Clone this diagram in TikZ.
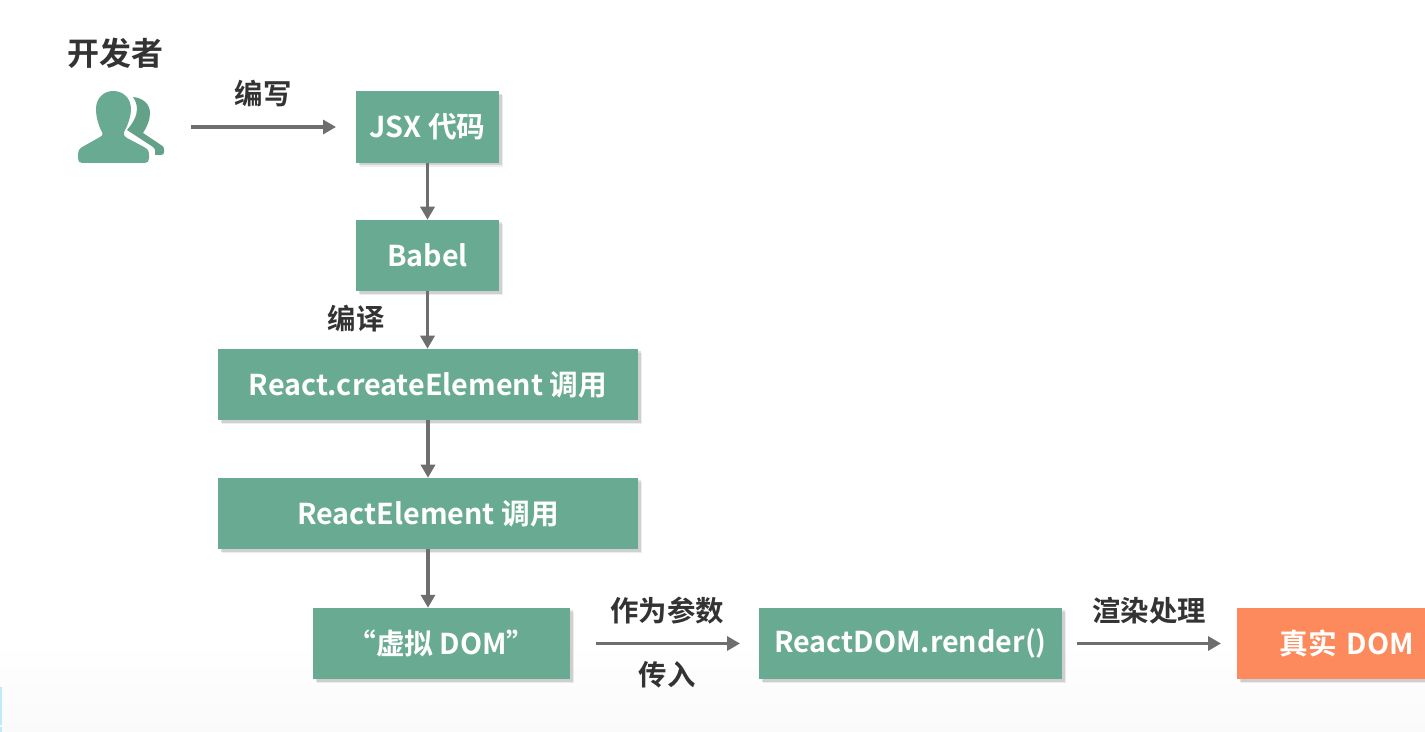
\documentclass[tikz,border=0pt]{standalone}
\usepackage{fontspec}
\setmainfont{Noto Sans CJK SC}[BoldFont={Noto Sans CJK SC Bold}]
\usetikzlibrary{arrows.meta,shadows}
\definecolor{boxgreen}{HTML}{69AB92}
\definecolor{boxorange}{HTML}{FC8A5D}
\definecolor{linegray}{HTML}{6E6E6E}
\definecolor{labelgray}{HTML}{333333}
\definecolor{pagelow}{HTML}{FAFAFA}
\tikzset{
  x=0.5pt,y=-0.5pt,
  flowbox/.style={draw=none,fill=boxgreen,text=white,font=\bfseries\fontsize{14.35}{16}\selectfont,
    inner sep=0pt,outer sep=0pt,minimum height=35.75pt,
    drop shadow={shadow xshift=2pt,shadow yshift=-2pt,fill=black,opacity=.07},
    drop shadow={shadow xshift=1.3pt,shadow yshift=-1.3pt,fill=black,opacity=.12}},
  realbox/.style={flowbox,fill=boxorange},
  flowarrow/.style={draw=linegray,line width=1.6pt,-{Triangle[length=6.5pt,width=7pt]}},
  flowlabel/.style={text=labelgray,font=\bfseries\fontsize{14.2}{16}\selectfont,inner sep=0pt},
  headlabel/.style={text=labelgray,font=\bfseries\fontsize{16}{18}\selectfont,inner sep=0pt},
}
\begin{document}
\begin{tikzpicture}
\useasboundingbox (0,0) rectangle (1425,732);
% background
\fill[white] (0,0) rectangle (1425,732);
\shade[top color=white,bottom color=pagelow] (0,640) rectangle (1425,732);
\fill[cyan!25] (0,687) rectangle (1.5,725);
\fill[cyan!25] (0,727) rectangle (1.5,732);
% developer icon
\fill[boxgreen!94!black] (133,97) .. controls (143,98) and (150,104) .. (150,113)
  .. controls (150,120) and (147,127) .. (143,133) -- (161,145)
  .. controls (163,146) and (164,147) .. (164,149) -- (164,152)
  .. controls (164,154) and (163,155) .. (161,155) -- (155,155) -- (155,150)
  .. controls (155,149) and (154,148) .. (153,147) -- (127,130)
  .. controls (133,123) and (137,116) .. (137,109)
  .. controls (137,104) and (135,100) .. (133,97) -- cycle;
\fill[boxgreen] (82,163) .. controls (79,163) and (78,161) .. (78,158) -- (78,155)
  .. controls (78,150) and (80,148) .. (84,146) -- (100,137)
  .. controls (103,135) and (103,134) .. (102,132)
  .. controls (98,125) and (96,116) .. (96,109)
  .. controls (96,98) and (104,91) .. (113,91)
  .. controls (123,91) and (131,98) .. (131,109)
  .. controls (131,116) and (128,125) .. (124,132)
  .. controls (123,134) and (124,136) .. (127,138) -- (144,147)
  .. controls (148,149) and (149,151) .. (149,155) -- (149,158)
  .. controls (149,161) and (148,163) .. (145,163) -- cycle;
% boxes
\node[flowbox,minimum width=71.5pt] (jsx) at (427.5,127) {JSX 代码};
\node[flowbox,minimum width=71.5pt] (babel) at (427.5,255.5) {Babel};
\node[flowbox,minimum width=210pt] (create) at (428,384.5) {React.createElement 调用};
\node[flowbox,minimum width=210pt] (elem) at (428,513.5) {ReactElement 调用};
\node[flowbox,minimum width=128.5pt] (vdom) at (441.5,643.5) {“虚拟 DOM”};
\node[flowbox,minimum width=151.5pt] (render) at (910.5,643.5) {ReactDOM.render()};
\node[realbox,minimum width=94pt,text width=94pt,align=center] (real) at (1331,643.5) {\hspace*{16pt}真实 DOM};
% labels
\node[headlabel] (devlabel) at (116,53) {开发者};
\node[flowlabel] (write) at (263,94) {编写};
\node[flowlabel] (compile) at (356,319) {编译};
\node[flowlabel] (param) at (667,611) {作为参数};
\node[flowlabel] (pass) at (667,675) {传入};
\node[flowlabel] (rendertxt) at (1149,611) {渲染处理};
% connectors
\coordinate (devout) at (191,127);
\draw[flowarrow,shorten >=10pt] (devout) -- (jsx.west);
\draw[flowarrow] (jsx) -- (babel);
\draw[flowarrow] (babel) -- (babel|-create.north);
\draw[flowarrow] (create) -- (create|-elem.north);
\draw[flowarrow] (elem) -- (elem|-vdom.north);
\draw[flowarrow,shorten <=13pt,shorten >=9.5pt] (vdom.east) -- (render.west);
\draw[flowarrow,shorten <=7.5pt,shorten >=8pt] (render.east) -- (real.west);
\end{tikzpicture}
\end{document}
